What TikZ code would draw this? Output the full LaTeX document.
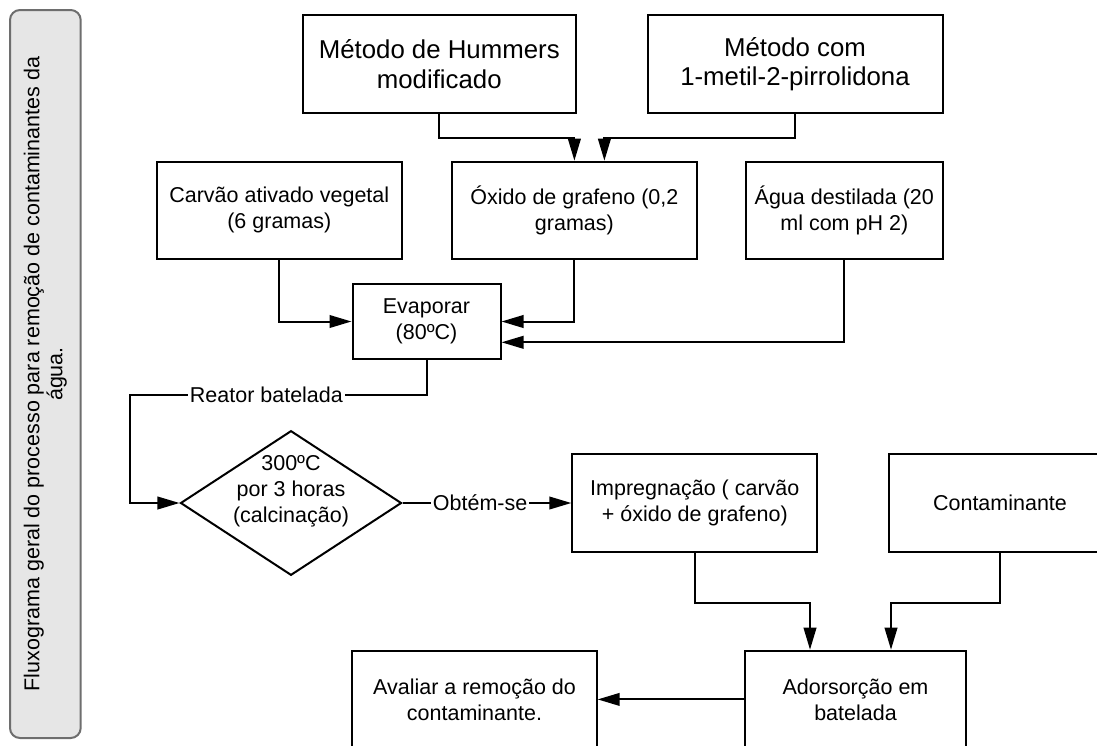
\documentclass[tikz,border=0pt]{standalone}
\usepackage{fontspec}
\setmainfont{Liberation Sans}
\usepackage{xcolor}
\usetikzlibrary{shapes,arrows.meta}
\definecolor{sidefill}{RGB}{230,230,230}
\definecolor{sideline}{RGB}{110,110,110}

\begin{document}
\begin{tikzpicture}[x=0.5pt, y=-0.5pt, font=\fontsize{10.75pt}{13pt}\selectfont]
	\tikzstyle{block} = [rectangle, draw, line width=1pt, align=center,
	minimum width=122.5pt, minimum height=48.7pt, inner sep=2pt]
	\tikzstyle{bigblock} = [block, font=\fontsize{12.9pt}{14.7pt}\selectfont, minimum height=49pt]
	\tikzstyle{decision} = [diamond, draw, line width=1pt, inner sep=0pt,
	minimum width=110.5pt, minimum height=72.3pt]
	\tikzstyle{line} = [draw, -{Triangle[length=11pt, width=6.3pt]}, line width=1pt]
	\tikzstyle{tag} = [fill=white, inner sep=1pt]
	\useasboundingbox (0,0) rectangle (1097,745);
	% Place nodes
	\node [draw=sideline, fill=sidefill, line width=1pt, rounded corners=5pt, rotate=90,
	minimum width=364pt, minimum height=35.35pt, align=center,
	font=\fontsize{10.75pt}{11.5pt}\selectfont] (titulo) at (45.35,374)
	{Fluxograma geral do processo para remoção de contaminantes da\\água.};
	\node [bigblock, minimum width=136.25pt] (hummers) at (439.25,64) {Método de Hummers\\modificado};
	\node [bigblock, minimum width=147.5pt] (metil) at (795,64) {Método com\\1-metil-2-pirrolidona};
	\node [block, minimum width=122.75pt] (carvao) at (279.3,210.4) {Carvão ativado vegetal\\(6 gramas)};
	\node [block, minimum width=122.65pt] (oxido) at (574.4,210.4) {Óxido de grafeno (0,2\\gramas)};
	\node [block, minimum width=98.3pt] (agua) at (844.3,210.4) {Água destilada (20\\ml com pH 2)};
	\node [block, minimum width=74pt, minimum height=37.5pt] (evap) at (426.5,321.5) {Evaporar\\(80ºC)};
	\node [decision] (calc) at (291,503) {};
	\node [align=center] (calctxt) at (291,491) {300ºC\\por 3 horas\\(calcinação)};
	\node [block] (impreg) at (694.8,503) {Impregnação ( carvão\\+ óxido de grafeno)};
	\node [block, minimum width=110.7pt] (contam) at (1000,503) {Contaminante};
	\node [block, minimum width=110.5pt] (adsorc) at (855.5,699.4) {Adorsorção em\\batelada};
	\node [block, minimum width=122.2pt] (avaliar) at (474.5,699.4) {Avaliar a remoção do\\contaminante.};
	\coordinate (dobra) at (130,395);
	% Draw edges
	\path [line] (hummers.south) -- ++(0,23.7) -| (oxido.north);
	\path [line] (metil.south) -- ++(0,23.7) -| ([xshift=15pt]oxido.north);
	\path [line] (carvao) |- (evap);
	\path [line] (oxido) |- (evap);
	\path [line] (agua) |- ([yshift=-10.4pt]evap.east);
	\path [line] (evap) |- node [tag, pos=0.77] {Reator batelada} (dobra) |- (calc);
	\path [line] (calc) -- node [tag, pos=0.46] {Obtém-se} (impreg);
	\path [line] (impreg.south) -- ++(0,50) -| ([xshift=-22.75pt]adsorc.north);
	\path [line] (contam.south) -- ++(0,50) -| ([xshift=17.75pt]adsorc.north);
	\path [line] (adsorc) -- (avaliar);
\end{tikzpicture}
\end{document}
